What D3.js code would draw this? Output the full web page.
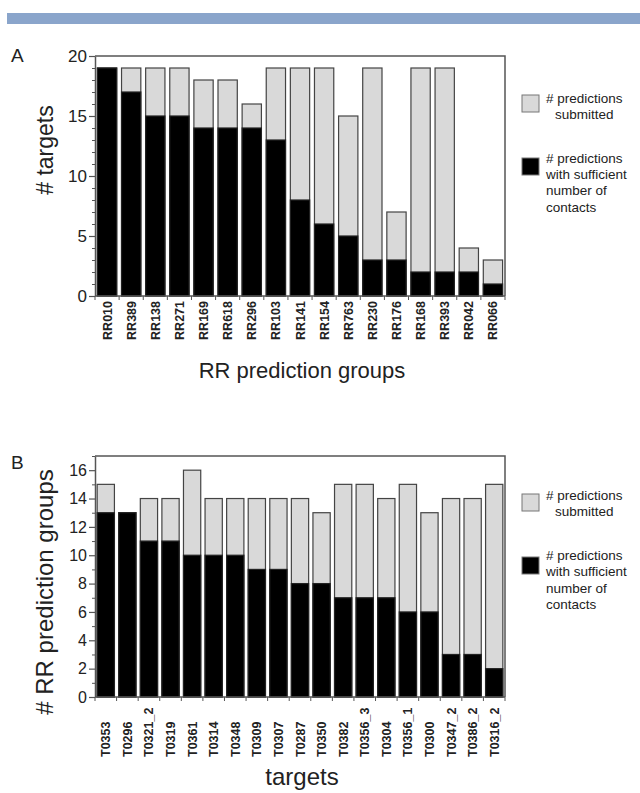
<!DOCTYPE html>
<html>
<head>
<meta charset="utf-8">
<script src="https://cdn.jsdelivr.net/npm/d3@7"></script>
<style>
  body { margin: 0; background: #fff; }
  svg { font-family: "Liberation Sans", Arial, sans-serif; }
</style>
</head>
<body>
<svg id="main" width="640" height="793"></svg>
<script>
// panel A: RR prediction groups
const groupsA = ['RR010', 'RR389', 'RR138', 'RR271', 'RR169', 'RR618', 'RR296', 'RR103', 'RR141',
  'RR154', 'RR763', 'RR230', 'RR176', 'RR168', 'RR393', 'RR042', 'RR066'];
const submittedA = [19, 19, 19, 19, 18, 18, 16, 19, 19, 19, 15, 19, 7, 19, 19, 4, 3];
const sufficientA = [19, 17, 15, 15, 14, 14, 14, 13, 8, 6, 5, 3, 3, 2, 2, 2, 1];
const ticksA = [0, 5, 10, 15, 20];

// panel B: targets
const targetsB = ['T0353', 'T0296', 'T0321_2', 'T0319', 'T0361', 'T0314', 'T0348', 'T0309', 'T0307',
  'T0287', 'T0350', 'T0382', 'T0356_3', 'T0304', 'T0356_1', 'T0300', 'T0347_2', 'T0386_2', 'T0316_2'];
const submittedB = [15, 13, 14, 14, 16, 14, 14, 14, 14, 14, 13, 15, 15, 14, 15, 13, 14, 14, 15];
const sufficientB = [13, 13, 11, 11, 10, 10, 10, 9, 9, 8, 8, 7, 7, 7, 6, 6, 3, 3, 2];
const ticksB = [0, 2, 4, 6, 8, 10, 12, 14, 16];

const legendLines = [['# predictions', 'submitted'], ['# predictions', 'with sufficient', 'number of', 'contacts']];

const svg = d3.select('#main');

// banner on top
svg.append('rect').attr('x', 7).attr('y', 13).attr('width', 633).attr('height', 11).attr('fill', '#8aa5cb');

function panel(opts) {
  const {letter, cats, total, good, ymax, ticks, minorStep, top, bottom, xTitle, yTitle, yTitleSize, labelAnchor} = opts;
  const left = 95, right = 505;
  const x = d3.scaleBand().domain(cats).range([left, right]).paddingInner(0.2).paddingOuter(0.1);
  const y = d3.scaleLinear().domain([0, ymax]).range([bottom, top]);
  const g = svg.append('g');

  // frame (top + right)
  g.append('path')
    .attr('d', `M${left},${top}H${right}V${bottom}`)
    .attr('fill', 'none').attr('stroke', '#555').attr('stroke-width', 1.5);

  // bars: submitted then sufficient on top
  g.selectAll('.sub').data(cats).join('rect')
    .attr('x', d => x(d)).attr('width', x.bandwidth())
    .attr('y', (d, i) => y(total[i])).attr('height', (d, i) => y(0) - y(total[i]))
    .attr('fill', '#d9d9d9').attr('stroke', '#444').attr('stroke-width', 1.2);
  g.selectAll('.good').data(cats).join('rect')
    .attr('x', d => x(d)).attr('width', x.bandwidth())
    .attr('y', (d, i) => y(good[i])).attr('height', (d, i) => y(0) - y(good[i]))
    .attr('fill', '#000').attr('stroke', '#222').attr('stroke-width', 1.2);

  // y axis with minor ticks
  const minor = d3.range(0, ymax + 0.001, minorStep).filter(v => !ticks.includes(v));
  g.append('g').attr('transform', `translate(${left},0)`)
    .call(d3.axisLeft(y).tickValues(minor).tickSize(3).tickFormat(''))
    .call(a => a.select('.domain').remove())
    .call(a => a.selectAll('line').attr('stroke', '#555'));
  g.append('g').attr('transform', `translate(${left},0)`)
    .call(d3.axisLeft(y).tickValues(ticks).tickSize(6).tickSizeOuter(0).tickPadding(2))
    .call(a => a.select('.domain').attr('stroke', '#555').attr('stroke-width', 1.5))
    .call(a => a.selectAll('line').attr('stroke', '#555').attr('stroke-width', 1.2))
    .call(a => a.selectAll('text').attr('font-size', opts.tickSize).attr('fill', '#222'));

  // x axis: ticks between bars
  const step = x.step();
  const edges = cats.map(c => x(c) - step * x.paddingInner() / 2).concat([right]);
  g.append('line').attr('x1', left).attr('x2', right).attr('y1', bottom).attr('y2', bottom)
    .attr('stroke', '#555').attr('stroke-width', 1.5);
  g.selectAll('.xt').data(edges).join('line')
    .attr('x1', d => d).attr('x2', d => d).attr('y1', bottom).attr('y2', bottom + 4)
    .attr('stroke', '#555');

  g.selectAll('.xl').data(cats).join('text')
    .attr('transform', d => labelAnchor === 'end'
      ? `translate(${x(d) + x.bandwidth() / 2 + 4.5},${bottom + 5}) rotate(-90)`
      : `translate(${x(d) + x.bandwidth() / 2 + 4.5},${bottom + 60}) rotate(-90)`)
    .attr('text-anchor', labelAnchor)
    .attr('font-size', 12.5).attr('font-weight', 'bold').attr('fill', '#222')
    .text(d => d);

  g.append('text').attr('x', (left + right) / 2 + 2).attr('y', opts.xTitleY)
    .attr('text-anchor', 'middle').attr('font-size', opts.xTitleSize).attr('fill', '#222').text(xTitle);
  g.append('text').attr('transform', `translate(${opts.yTitleX},${opts.yTitleY}) rotate(-90)`)
    .attr('text-anchor', 'middle').attr('font-size', yTitleSize).attr('fill', '#222').text(yTitle);

  g.append('text').attr('x', 11).attr('y', opts.letterY).attr('font-size', 19).attr('fill', '#222').text(letter);

  // legend
  const fills = ['#d9d9d9', '#000'];
  legendLines.forEach((lines, k) => {
    g.append('rect').attr('x', 522).attr('y', opts.legBox[k]).attr('width', 17).attr('height', 17)
      .attr('fill', fills[k]).attr('stroke', '#777').attr('stroke-width', 1);
    lines.forEach((t, j) => {
      g.append('text')
        .attr('x', k === 0 && j === 1 ? 555 : 546)
        .attr('y', opts.legText[k] + j * 16.4)
        .attr('font-size', 13.5).attr('fill', '#222').text(t);
    });
  });
}

panel({
  letter: 'A', letterY: 62, cats: groupsA, total: submittedA, good: sufficientA,
  ymax: 20, ticks: ticksA, minorStep: 1, top: 56, bottom: 296, tickSize: 17,
  xTitle: 'RR prediction groups', xTitleY: 378, xTitleSize: 22,
  yTitle: '# targets', yTitleSize: 23, yTitleX: 53, yTitleY: 150,
  labelAnchor: 'end', legBox: [95, 158], legText: [102.5, 162.5]
});

panel({
  letter: 'B', letterY: 469, cats: targetsB, total: submittedB, good: sufficientB,
  ymax: 17, ticks: ticksB, minorStep: 1, top: 456, bottom: 697, tickSize: 16,
  xTitle: 'targets', xTitleY: 785, xTitleSize: 24,
  yTitle: '# RR prediction groups', yTitleSize: 24, yTitleX: 53, yTitleY: 592,
  labelAnchor: 'start', legBox: [494, 557], legText: [500, 560]
});
</script>
</body>
</html>
